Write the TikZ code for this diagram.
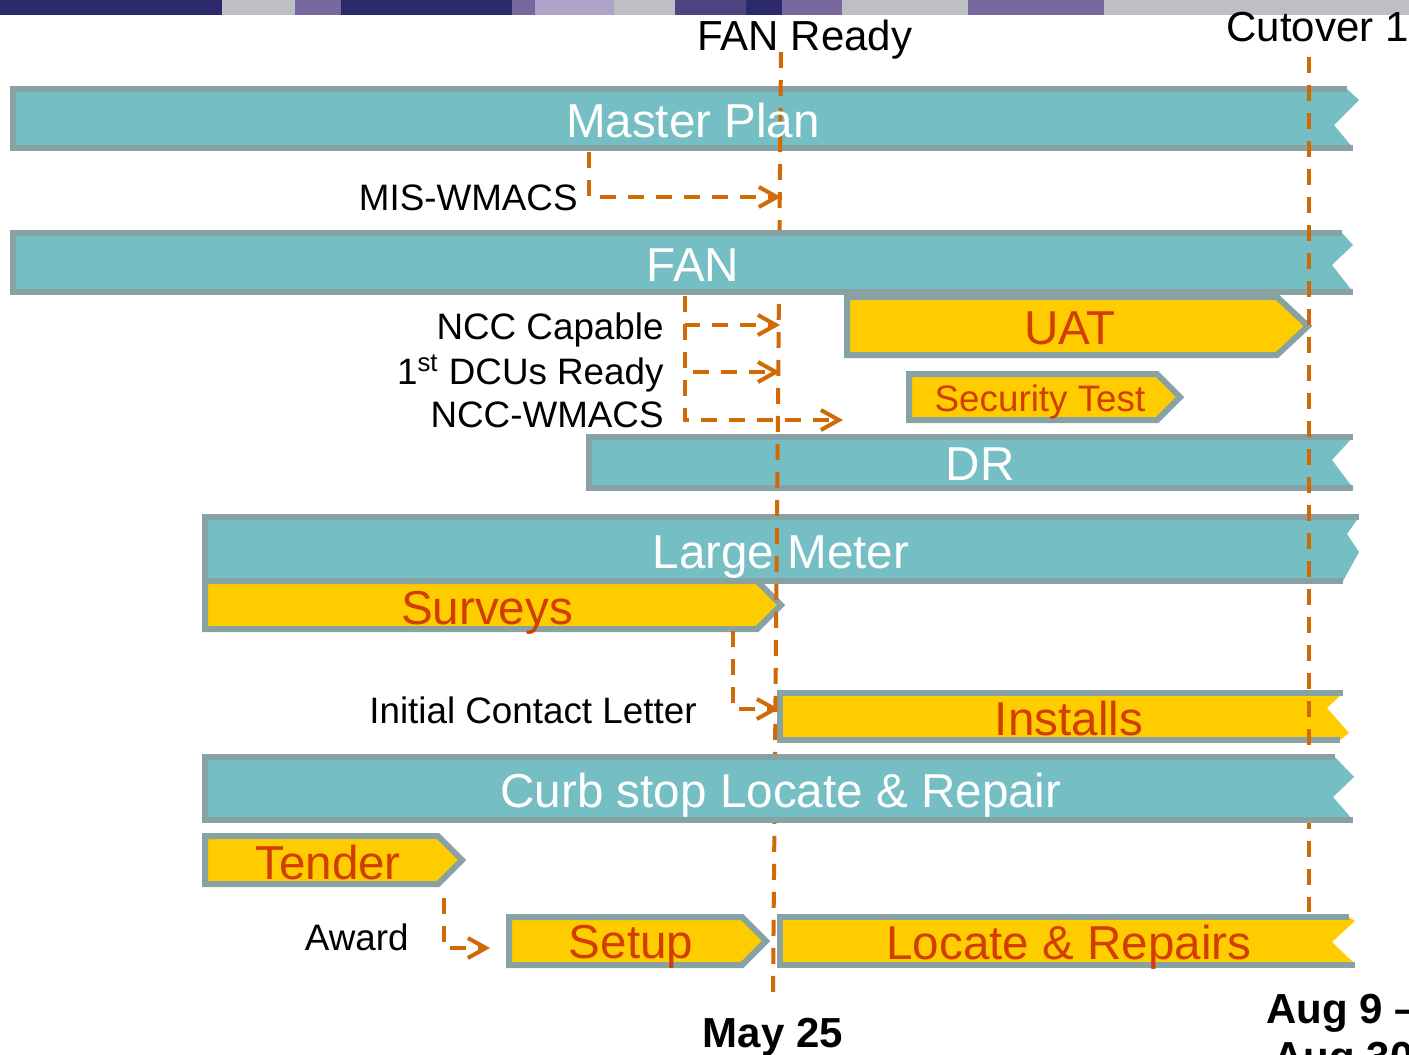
\documentclass[tikz,border=0pt]{standalone}
\usepackage{fontspec}
\setmainfont{Liberation Sans}
\usetikzlibrary{arrows.meta}
\definecolor{tealfill}{RGB}{116,190,196}
\definecolor{rimgray}{RGB}{136,162,164}
\definecolor{yel}{RGB}{255,204,0}
\definecolor{txtred}{RGB}{210,62,0}
\definecolor{dorange}{RGB}{207,106,6}
\definecolor{navy}{RGB}{44,40,108}
\definecolor{bgray}{RGB}{189,191,195}
\definecolor{bpurple}{RGB}{118,103,158}
\definecolor{blav}{RGB}{174,164,200}
\definecolor{bmid}{RGB}{78,68,127}
\tikzset{
  bigtxt/.style={font=\fontsize{23.8}{28}\selectfont, anchor=base, inner sep=0pt},
  wtxt/.style={bigtxt, text=white},
  rtxt/.style={bigtxt, text=txtred},
  lbl/.style={font=\fontsize{18.4}{22}\selectfont, anchor=base east, inner sep=0pt},
  milestone/.style={font=\fontsize{21}{25}\selectfont, anchor=base, inner sep=0pt},
  datelbl/.style={font=\fontsize{21}{25}\selectfont\bfseries, anchor=base, inner sep=0pt},
  tealbar/.style={fill=tealfill},
  rim/.style={draw=rimgray, line width=3pt, line join=miter},
  yarrow/.style={fill=yel, draw=rimgray, line width=3pt, line join=miter},
  ybar/.style={fill=yel},
  dline/.style={draw=dorange, line width=2pt, dash pattern=on 8pt off 6pt},
  conn/.style={dline, -{Straight Barb[length=9pt,width=10pt,line width=2pt]}}
}
\begin{document}
\begin{tikzpicture}[x=0.5pt,y=-0.5pt]
\useasboundingbox (0,0) rectangle (1409,1055);
\clip (0,0) rectangle (1409,1055);
\fill[white] (0,0) rectangle (1409,1055);
% top band
\fill[navy] (0,0) rectangle (222,15);
\fill[bgray] (222,0) rectangle (295,15);
\fill[bpurple] (295,0) rectangle (341,15);
\fill[navy] (341,0) rectangle (512,15);
\fill[bpurple] (512,0) rectangle (535,15);
\fill[blav] (535,0) rectangle (614,15);
\fill[bgray] (614,0) rectangle (675,15);
\fill[bmid] (675,0) rectangle (746,15);
\fill[navy] (746,0) rectangle (782,15);
\fill[bpurple] (782,0) rectangle (842,15);
\fill[bgray] (842,0) rectangle (968,15);
\fill[bpurple] (968,0) rectangle (1104,15);
\fill[bgray] (1104,0) rectangle (1409,15);

% Master Plan
\fill[tealbar] (13,89) -- (1347,89) -- (1359,100) -- (1334,125) -- (1353,148) -- (13,148) -- cycle;
\draw[rim] (1347,89) -- (13,89) -- (13,148) -- (1353,148);
% UAT, Security Test
\draw[yarrow] (847,297) -- (1277,297) -- (1308,326) -- (1277,355) -- (847,355) -- cycle;
\draw[yarrow] (909,374) -- (1157,374) -- (1180,397) -- (1157,420) -- (909,420) -- cycle;
% DR
\fill[tealbar] (589,437) -- (1353,437) -- (1332,460) -- (1353,488) -- (589,488) -- cycle;
\draw[rim] (1353,437) -- (589,437) -- (589,488) -- (1353,488);
% Surveys
\draw[yarrow] (205,581) -- (757,581) -- (781,605) -- (757,629) -- (205,629) -- cycle;
% Large Meter
\fill[tealbar] (205,517) -- (1359,517) -- (1347,534) -- (1359,552) -- (1343,581) -- (205,581) -- cycle;
\draw[rim] (1359,517) -- (205,517) -- (205,581) -- (1343,581);
% Installs
\fill[ybar] (780,693) -- (1343,693) -- (1327,708) -- (1349,733) -- (1340,740) -- (780,740) -- cycle;
\draw[rim] (1343,693) -- (780,693) -- (780,740) -- (1340,740);
% Tender, Setup
\draw[yarrow] (205,836) -- (438,836) -- (462,860) -- (438,884) -- (205,884) -- cycle;
\draw[yarrow] (509,917) -- (742,917) -- (766,941) -- (742,965) -- (509,965) -- cycle;
% Locate & Repairs
\fill[ybar] (780,917) -- (1349,917) -- (1355,921) -- (1332,942) -- (1355,964) -- (780,965) -- cycle;
\draw[rim] (1349,917) -- (780,917) -- (780,965) -- (1355,965);

% May 25 line
\coordinate (m1) at (781,52);
\coordinate (m2) at (773,992);
\draw[dline] (m1) -- (m2);

% FAN bar (drawn over May 25 line)
\fill[tealbar] (13,233) -- (1342,233) -- (1353,245) -- (1332,265) -- (1353,292) -- (13,292) -- cycle;
\draw[rim] (1342,233) -- (13,233) -- (13,292) -- (1353,292);

% Cutover line
\coordinate (k1) at (1309,57);
\coordinate (k2) at (1309,912);
\draw[dline] (k1) -- (k2);

% Curb stop bar
\fill[tealbar] (205,757) -- (1335,757) -- (1354,777) -- (1333,797) -- (1353,820) -- (205,820) -- cycle;
\draw[rim] (1335,757) -- (205,757) -- (205,820) -- (1353,820);

% bar texts
\node[wtxt] (mp) at (693,137) {Master Plan};
\node[wtxt] (fan) at (693,281) {FAN};
\node[rtxt] (uat) at (1070,344) {UAT};
\node[rtxt, font=\fontsize{18.4}{22}\selectfont] (sec) at (1040,411) {Security Test};
\node[wtxt] (dr) at (980,480) {DR};
\node[wtxt] (lm) at (781,568) {Large Meter};
\node[rtxt] (sur) at (487,624) {Surveys};
\node[rtxt] (ins) at (1069,735) {Installs};
\node[wtxt] (curb) at (781,807) {Curb stop Locate \& Repair};
\node[rtxt] (ten) at (328,879) {Tender};
\node[rtxt] (set) at (631,958) {Setup};
\node[rtxt] (loc) at (1069,959) {Locate \& Repairs};

% labels
\node[lbl] (mis) at (578,210) {MIS-WMACS};
\node[lbl] (ncc) at (664,339) {NCC Capable};
\node[lbl] (dcu) at (664,384) {1\textsuperscript{st} DCUs Ready};
\node[lbl] (nccw) at (664,427) {NCC-WMACS};
\node[lbl] (icl) at (697,723) {Initial Contact Letter};
\node[lbl] (awd) at (409,950) {Award};
\node[milestone] (fr) at (805,50) {FAN Ready};
\node[milestone, anchor=base west] (cut) at (1226,41) {Cutover 1};
\node[datelbl] (may) at (773,1047) {May 25};
\node[datelbl, anchor=base west] (aug1) at (1266,1023) {Aug 9 –};
\node[datelbl, anchor=base west] (aug2) at (1273,1071) {Aug 30};

% connectors
\coordinate (c1s) at (589,152);
\coordinate (c1e) at (781,197);
\draw[conn] (c1s) |- (c1e);
\coordinate (c2s) at (685,296);
\coordinate (c2a) at (780,325);
\coordinate (c2b) at (780,372);
\coordinate (c2c) at (843,420);
\draw[conn] (c2s) |- (c2a);
\draw[conn] (c2s) |- (c2b);
\draw[conn] (c2s) |- (c2c);
\coordinate (c3s) at (733,631);
\coordinate (c3e) at (779,709);
\draw[conn] (c3s) |- (c3e);
\coordinate (c4s) at (444,898);
\coordinate (c4e) at (490,948);
\draw[conn] (c4s) |- (c4e);
\end{tikzpicture}
\end{document}
